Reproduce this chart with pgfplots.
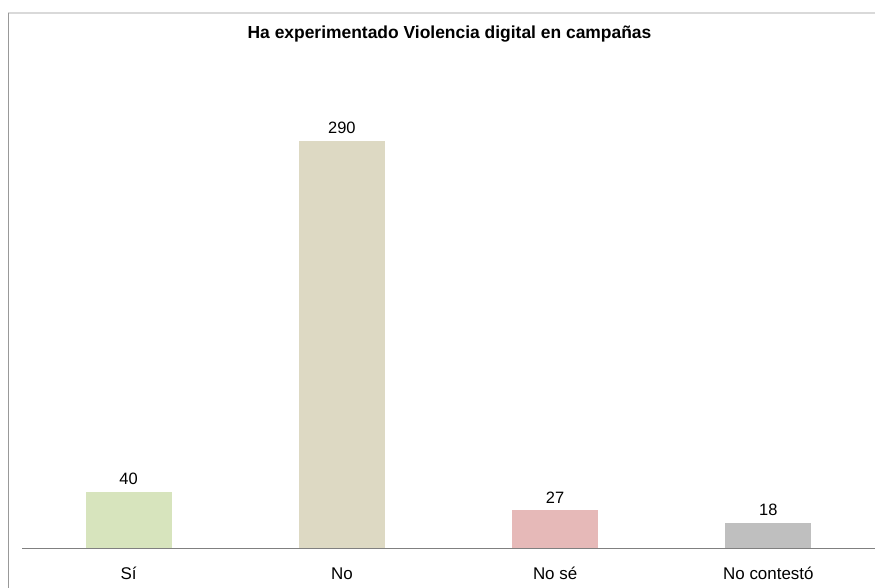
\documentclass[border=0pt]{standalone}
\usepackage{pgfplots}
\pgfplotsset{compat=1.18}
\usepackage{fontspec}
\setmainfont{Liberation Sans}
\definecolor{cSi}{HTML}{D7E4BD}
\definecolor{cNo}{HTML}{DDD9C3}
\definecolor{cNs}{HTML}{E6B9B8}
\definecolor{cNc}{HTML}{BFBFBF}
\definecolor{axgray}{HTML}{808080}
\begin{document}
\begin{tikzpicture}
\useasboundingbox (0,0) rectangle (875bp,588bp);
\fill[white] (0,0) rectangle (875bp,588bp);
\draw[color=black!15, line width=1.2bp] (8bp,575bp) -- (875bp,575bp);
\draw[color=black!40, line width=0.8bp] (8bp,575bp) -- (8bp,0bp);
\node[anchor=base, font=\fontsize{17.5}{19}\selectfont\bfseries, inner sep=0pt] at (449.5bp,549bp) {Ha experimentado Violencia digital en campañas};
\begin{axis}[
  at={(22bp,40bp)}, anchor=south west,
  scale only axis, width=853bp, height=421.5bp,
  xmin=-0.5, xmax=3.5, ymin=0, ymax=300,
  axis x line=bottom, axis y line=none,
  axis line style={draw=axgray, line width=0.8bp, -},
  xtick={0,1,2,3},
  xticklabels={Sí, No, No sé, No contestó},
  major tick length=0pt,
  xticklabel style={anchor=base, yshift=-31bp, inner sep=0pt, font=\fontsize{17}{19}\selectfont},
  ybar, bar width=86bp, bar shift=0pt,
  nodes near coords,
  nodes near coords style={anchor=base, inner sep=0pt, yshift=7bp, font=\fontsize{16.5}{19}\selectfont, text=black},
  /pgf/number format/assume math mode=true,
  clip=false,
]
\addplot[fill=cSi, draw=none] coordinates {(0,40)};
\addplot[fill=cNo, draw=none] coordinates {(1,290)};
\addplot[fill=cNs, draw=none] coordinates {(2,27)};
\addplot[fill=cNc, draw=none] coordinates {(3,18)};
\end{axis}
\end{tikzpicture}
\end{document}
